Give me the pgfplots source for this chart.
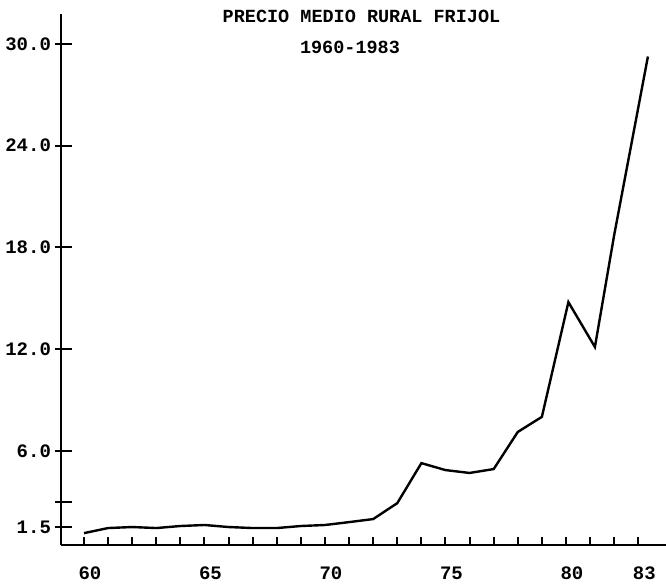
\documentclass[border=0pt]{standalone}
\usepackage{fontspec}
\setmainfont{Liberation Mono}
\usepackage{pgfplots}
\pgfplotsset{compat=1.18}
\begin{document}
\begin{tikzpicture}
\useasboundingbox (-30.5pt,-20pt) rectangle (302.5pt,272.5pt);
\begin{axis}[
 at={(0,0)}, anchor=south west,
 x=12.05pt, y=8.475pt,
 xmin=59.046, xmax=84.15, ymin=0.44, ymax=31.76,
 axis lines=left, axis line style={-, line width=1.4pt},
 major tick length=4pt,
 xtick={60,...,83},
 xticklabels={60,,,,,65,,,,,70,,,,,75,,,,,80,,,83},
 ytick={1.5,3,6,12,18,24,30},
 yticklabels={1.5,,6.0,12.0,18.0,24.0,30.0},
 xtick align=inside, ytick align=outside,
 x tick style={line width=1pt, black},
 y tick style={draw=none},
 tick label style={font=\fontsize{9.5}{11}\selectfont\bfseries},
 xticklabel style={xshift=3pt, yshift=-7.5pt},
 yticklabel style={xshift=2.5pt},
 /pgf/number format/assume math mode=true,
 clip=false,
]
\addplot[black, line width=1.2pt] coordinates {
(60,1.14)(61,1.44)(62,1.50)(63,1.44)(64,1.56)(65,1.62)(66,1.50)(67,1.44)
(68,1.44)(69,1.56)(70,1.62)(71,1.79)(72,1.97)(73,2.91)(74,5.27)(75,4.86)
(76,4.69)(77,4.92)(78,7.11)(79,8.00)(80.1,14.77)(81.2,12.12)(82,18.73)(83.4,29.26)
};
\draw[line width=1pt] ([xshift=-3pt]axis cs:59.046,1.5) -- ([xshift=5.5pt]axis cs:59.046,1.5);
\draw[line width=1pt] ([xshift=-3pt]axis cs:59.046,3) -- ([xshift=5.5pt]axis cs:59.046,3);
\draw[line width=1pt] ([xshift=-3pt]axis cs:59.046,6) -- ([xshift=5.5pt]axis cs:59.046,6);
\draw[line width=1pt] ([xshift=-3pt]axis cs:59.046,12) -- ([xshift=5.5pt]axis cs:59.046,12);
\draw[line width=1pt] ([xshift=-3pt]axis cs:59.046,18) -- ([xshift=5.5pt]axis cs:59.046,18);
\draw[line width=1pt] ([xshift=-3pt]axis cs:59.046,24) -- ([xshift=5.5pt]axis cs:59.046,24);
\draw[line width=1pt] ([xshift=-3pt]axis cs:59.046,30) -- ([xshift=5.5pt]axis cs:59.046,30);
\end{axis}
\node[anchor=base, font=\fontsize{9.25}{11}\selectfont\bfseries] at (150.25pt,261pt) {PRECIO MEDIO RURAL FRIJOL};
\node[anchor=base, font=\fontsize{9.25}{11}\selectfont\bfseries] at (144.5pt,245.5pt) {1960-1983};
\end{tikzpicture}
\end{document}
